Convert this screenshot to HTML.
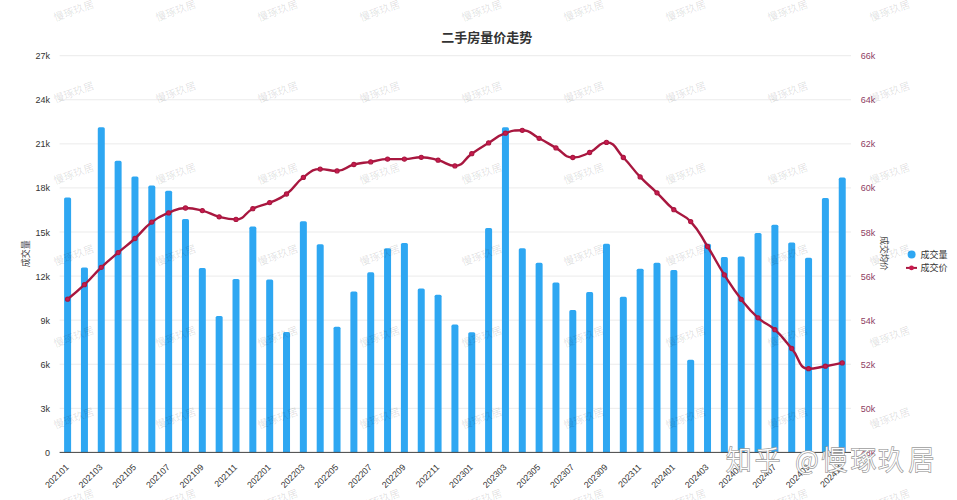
<!DOCTYPE html>
<html><head><meta charset="utf-8"><style>
html,body{margin:0;padding:0;background:#fff;}
body{width:957px;height:500px;overflow:hidden;position:relative;}
svg{position:absolute;left:0;top:0;}
text{font-family:"Liberation Sans","Noto Sans CJK SC",sans-serif;}
.wm{font-size:10.5px;fill:#000;fill-opacity:0.13;text-anchor:middle;}
.g{stroke:#ebebeb;stroke-width:1;}
.yl{font-size:9px;fill:#333;text-anchor:end;}
.yr{font-size:9px;fill:#8e4063;text-anchor:start;}
.xl{font-size:8.8px;fill:#333;text-anchor:end;}
.title{font-size:13px;font-weight:bold;fill:#333;text-anchor:middle;}
.an{font-size:9px;fill:#444;text-anchor:middle;}
.lg{font-size:9px;fill:#333;}
.zh{font-family:"Noto Sans CJK SC",sans-serif;font-size:27px;font-weight:300;fill:#fff;stroke:#9c9c9c;stroke-width:1.5px;paint-order:stroke;}
</style></head><body>
<svg width="957" height="500" viewBox="0 0 957 500">
<g><line x1="59.6" x2="851" y1="55.70" y2="55.70" class="g"/><line x1="59.6" x2="851" y1="99.78" y2="99.78" class="g"/><line x1="59.6" x2="851" y1="143.86" y2="143.86" class="g"/><line x1="59.6" x2="851" y1="187.93" y2="187.93" class="g"/><line x1="59.6" x2="851" y1="232.01" y2="232.01" class="g"/><line x1="59.6" x2="851" y1="276.09" y2="276.09" class="g"/><line x1="59.6" x2="851" y1="320.17" y2="320.17" class="g"/><line x1="59.6" x2="851" y1="364.24" y2="364.24" class="g"/><line x1="59.6" x2="851" y1="408.32" y2="408.32" class="g"/></g>
<g fill="#2ea7f2"><path d="M64.10,452.40 V199.10 Q64.10,197.50 65.70,197.50 H69.50 Q71.10,197.50 71.10,199.10 V452.40 Z"/><path d="M80.94,452.40 V269.00 Q80.94,267.40 82.54,267.40 H86.34 Q87.94,267.40 87.94,269.00 V452.40 Z"/><path d="M97.78,452.40 V128.80 Q97.78,127.20 99.38,127.20 H103.18 Q104.78,127.20 104.78,128.80 V452.40 Z"/><path d="M114.62,452.40 V162.40 Q114.62,160.80 116.22,160.80 H120.02 Q121.62,160.80 121.62,162.40 V452.40 Z"/><path d="M131.46,452.40 V178.00 Q131.46,176.40 133.06,176.40 H136.86 Q138.46,176.40 138.46,178.00 V452.40 Z"/><path d="M148.30,452.40 V187.20 Q148.30,185.60 149.90,185.60 H153.70 Q155.30,185.60 155.30,187.20 V452.40 Z"/><path d="M165.14,452.40 V192.30 Q165.14,190.70 166.74,190.70 H170.54 Q172.14,190.70 172.14,192.30 V452.40 Z"/><path d="M181.98,452.40 V220.70 Q181.98,219.10 183.58,219.10 H187.38 Q188.98,219.10 188.98,220.70 V452.40 Z"/><path d="M198.82,452.40 V269.70 Q198.82,268.10 200.42,268.10 H204.22 Q205.82,268.10 205.82,269.70 V452.40 Z"/><path d="M215.66,452.40 V317.60 Q215.66,316.00 217.26,316.00 H221.06 Q222.66,316.00 222.66,317.60 V452.40 Z"/><path d="M232.50,452.40 V280.60 Q232.50,279.00 234.10,279.00 H237.90 Q239.50,279.00 239.50,280.60 V452.40 Z"/><path d="M249.34,452.40 V228.20 Q249.34,226.60 250.94,226.60 H254.74 Q256.34,226.60 256.34,228.20 V452.40 Z"/><path d="M266.18,452.40 V281.10 Q266.18,279.50 267.78,279.50 H271.58 Q273.18,279.50 273.18,281.10 V452.40 Z"/><path d="M283.02,452.40 V333.70 Q283.02,332.10 284.62,332.10 H288.42 Q290.02,332.10 290.02,333.70 V452.40 Z"/><path d="M299.86,452.40 V222.80 Q299.86,221.20 301.46,221.20 H305.26 Q306.86,221.20 306.86,222.80 V452.40 Z"/><path d="M316.70,452.40 V245.80 Q316.70,244.20 318.30,244.20 H322.10 Q323.70,244.20 323.70,245.80 V452.40 Z"/><path d="M333.54,452.40 V328.30 Q333.54,326.70 335.14,326.70 H338.94 Q340.54,326.70 340.54,328.30 V452.40 Z"/><path d="M350.38,452.40 V293.00 Q350.38,291.40 351.98,291.40 H355.78 Q357.38,291.40 357.38,293.00 V452.40 Z"/><path d="M367.22,452.40 V273.90 Q367.22,272.30 368.82,272.30 H372.62 Q374.22,272.30 374.22,273.90 V452.40 Z"/><path d="M384.06,452.40 V249.80 Q384.06,248.20 385.66,248.20 H389.46 Q391.06,248.20 391.06,249.80 V452.40 Z"/><path d="M400.90,452.40 V244.60 Q400.90,243.00 402.50,243.00 H406.30 Q407.90,243.00 407.90,244.60 V452.40 Z"/><path d="M417.74,452.40 V290.00 Q417.74,288.40 419.34,288.40 H423.14 Q424.74,288.40 424.74,290.00 V452.40 Z"/><path d="M434.58,452.40 V296.30 Q434.58,294.70 436.18,294.70 H439.98 Q441.58,294.70 441.58,296.30 V452.40 Z"/><path d="M451.42,452.40 V326.20 Q451.42,324.60 453.02,324.60 H456.82 Q458.42,324.60 458.42,326.20 V452.40 Z"/><path d="M468.26,452.40 V333.80 Q468.26,332.20 469.86,332.20 H473.66 Q475.26,332.20 475.26,333.80 V452.40 Z"/><path d="M485.10,452.40 V229.70 Q485.10,228.10 486.70,228.10 H490.50 Q492.10,228.10 492.10,229.70 V452.40 Z"/><path d="M501.94,452.40 V128.90 Q501.94,127.30 503.54,127.30 H507.34 Q508.94,127.30 508.94,128.90 V452.40 Z"/><path d="M518.78,452.40 V249.80 Q518.78,248.20 520.38,248.20 H524.18 Q525.78,248.20 525.78,249.80 V452.40 Z"/><path d="M535.62,452.40 V264.40 Q535.62,262.80 537.22,262.80 H541.02 Q542.62,262.80 542.62,264.40 V452.40 Z"/><path d="M552.46,452.40 V284.00 Q552.46,282.40 554.06,282.40 H557.86 Q559.46,282.40 559.46,284.00 V452.40 Z"/><path d="M569.30,452.40 V311.70 Q569.30,310.10 570.90,310.10 H574.70 Q576.30,310.10 576.30,311.70 V452.40 Z"/><path d="M586.14,452.40 V293.70 Q586.14,292.10 587.74,292.10 H591.54 Q593.14,292.10 593.14,293.70 V452.40 Z"/><path d="M602.98,452.40 V245.40 Q602.98,243.80 604.58,243.80 H608.38 Q609.98,243.80 609.98,245.40 V452.40 Z"/><path d="M619.82,452.40 V298.40 Q619.82,296.80 621.42,296.80 H625.22 Q626.82,296.80 626.82,298.40 V452.40 Z"/><path d="M636.66,452.40 V270.30 Q636.66,268.70 638.26,268.70 H642.06 Q643.66,268.70 643.66,270.30 V452.40 Z"/><path d="M653.50,452.40 V264.40 Q653.50,262.80 655.10,262.80 H658.90 Q660.50,262.80 660.50,264.40 V452.40 Z"/><path d="M670.34,452.40 V271.70 Q670.34,270.10 671.94,270.10 H675.74 Q677.34,270.10 677.34,271.70 V452.40 Z"/><path d="M687.18,452.40 V361.40 Q687.18,359.80 688.78,359.80 H692.58 Q694.18,359.80 694.18,361.40 V452.40 Z"/><path d="M704.02,452.40 V245.40 Q704.02,243.80 705.62,243.80 H709.42 Q711.02,243.80 711.02,245.40 V452.40 Z"/><path d="M720.86,452.40 V258.70 Q720.86,257.10 722.46,257.10 H726.26 Q727.86,257.10 727.86,258.70 V452.40 Z"/><path d="M737.70,452.40 V258.00 Q737.70,256.40 739.30,256.40 H743.10 Q744.70,256.40 744.70,258.00 V452.40 Z"/><path d="M754.54,452.40 V234.60 Q754.54,233.00 756.14,233.00 H759.94 Q761.54,233.00 761.54,234.60 V452.40 Z"/><path d="M771.38,452.40 V226.30 Q771.38,224.70 772.98,224.70 H776.78 Q778.38,224.70 778.38,226.30 V452.40 Z"/><path d="M788.22,452.40 V244.00 Q788.22,242.40 789.82,242.40 H793.62 Q795.22,242.40 795.22,244.00 V452.40 Z"/><path d="M805.06,452.40 V259.40 Q805.06,257.80 806.66,257.80 H810.46 Q812.06,257.80 812.06,259.40 V452.40 Z"/><path d="M821.90,452.40 V199.70 Q821.90,198.10 823.50,198.10 H827.30 Q828.90,198.10 828.90,199.70 V452.40 Z"/><path d="M838.74,452.40 V179.20 Q838.74,177.60 840.34,177.60 H844.14 Q845.74,177.60 845.74,179.20 V452.40 Z"/></g>
<line x1="59.6" x2="851" y1="452.40" y2="452.40" stroke="#444" stroke-width="1"/>
<path d="M67.60,299.20 C67.60,299.20 76.38,292.33 84.44,284.70 C93.22,276.38 92.52,275.65 101.28,267.30 C109.36,259.60 109.63,259.86 118.12,252.60 C126.47,245.46 126.83,245.87 134.96,238.50 C143.67,230.62 142.53,229.15 151.80,222.10 C159.37,216.35 159.84,216.58 168.64,212.90 C176.68,209.53 176.94,208.00 185.48,208.00 C193.78,208.00 194.12,208.46 202.32,210.60 C210.96,212.86 210.52,214.54 219.16,216.80 C227.36,218.94 228.24,219.40 236.00,219.40 C245.08,219.40 243.97,213.13 252.84,208.70 C260.81,204.73 261.49,206.18 269.68,202.60 C278.33,198.83 279.04,199.60 286.52,194.00 C295.88,187.00 293.97,184.34 303.36,177.40 C310.81,171.89 311.35,169.10 320.20,169.10 C328.19,169.10 328.88,170.90 337.04,170.90 C345.72,170.90 345.23,166.81 353.88,164.50 C362.07,162.31 362.31,163.25 370.72,161.90 C379.15,160.55 379.08,159.10 387.56,159.10 C395.92,159.10 396.00,159.10 404.40,159.10 C412.84,159.10 412.86,157.30 421.24,157.30 C429.70,157.30 429.83,158.09 438.08,160.20 C446.67,162.39 447.16,165.90 454.92,165.90 C464.00,165.90 463.18,159.56 471.76,153.70 C480.02,148.06 480.06,148.10 488.60,142.90 C496.90,137.85 496.48,136.50 505.44,133.20 C513.32,130.30 514.23,130.30 522.28,130.30 C531.07,130.30 530.86,133.99 539.12,138.30 C547.70,142.79 547.54,143.10 555.96,147.90 C564.38,152.70 563.97,157.50 572.80,157.50 C580.81,157.50 581.69,156.06 589.64,152.50 C598.53,148.51 598.65,142.40 606.48,142.40 C615.49,142.40 615.44,149.42 623.32,157.50 C632.28,166.67 631.30,167.62 640.16,176.90 C648.14,185.27 648.70,184.72 657.00,192.80 C665.54,201.12 664.81,201.98 673.84,209.70 C681.65,216.38 683.83,214.11 690.68,221.60 C700.67,232.51 699.49,233.80 707.52,246.50 C716.33,260.45 715.49,260.99 724.36,274.90 C732.33,287.39 732.07,287.67 741.20,299.30 C748.91,309.12 748.81,309.47 758.04,317.80 C765.65,324.67 767.31,322.80 774.88,329.70 C784.15,338.15 783.47,338.95 791.72,348.50 C800.31,358.45 798.34,368.70 808.56,368.70 C815.18,368.70 817.01,367.64 825.40,366.20 C833.85,364.74 842.24,362.90 842.24,362.90" fill="none" stroke="#a8173f" stroke-width="2.4"/>
<g fill="#c81a4e" stroke="#a8173f" stroke-width="1.1"><circle cx="67.60" cy="299.20" r="2.1"/><circle cx="84.44" cy="284.70" r="2.1"/><circle cx="101.28" cy="267.30" r="2.1"/><circle cx="118.12" cy="252.60" r="2.1"/><circle cx="134.96" cy="238.50" r="2.1"/><circle cx="151.80" cy="222.10" r="2.1"/><circle cx="168.64" cy="212.90" r="2.1"/><circle cx="185.48" cy="208.00" r="2.1"/><circle cx="202.32" cy="210.60" r="2.1"/><circle cx="219.16" cy="216.80" r="2.1"/><circle cx="236.00" cy="219.40" r="2.1"/><circle cx="252.84" cy="208.70" r="2.1"/><circle cx="269.68" cy="202.60" r="2.1"/><circle cx="286.52" cy="194.00" r="2.1"/><circle cx="303.36" cy="177.40" r="2.1"/><circle cx="320.20" cy="169.10" r="2.1"/><circle cx="337.04" cy="170.90" r="2.1"/><circle cx="353.88" cy="164.50" r="2.1"/><circle cx="370.72" cy="161.90" r="2.1"/><circle cx="387.56" cy="159.10" r="2.1"/><circle cx="404.40" cy="159.10" r="2.1"/><circle cx="421.24" cy="157.30" r="2.1"/><circle cx="438.08" cy="160.20" r="2.1"/><circle cx="454.92" cy="165.90" r="2.1"/><circle cx="471.76" cy="153.70" r="2.1"/><circle cx="488.60" cy="142.90" r="2.1"/><circle cx="505.44" cy="133.20" r="2.1"/><circle cx="522.28" cy="130.30" r="2.1"/><circle cx="539.12" cy="138.30" r="2.1"/><circle cx="555.96" cy="147.90" r="2.1"/><circle cx="572.80" cy="157.50" r="2.1"/><circle cx="589.64" cy="152.50" r="2.1"/><circle cx="606.48" cy="142.40" r="2.1"/><circle cx="623.32" cy="157.50" r="2.1"/><circle cx="640.16" cy="176.90" r="2.1"/><circle cx="657.00" cy="192.80" r="2.1"/><circle cx="673.84" cy="209.70" r="2.1"/><circle cx="690.68" cy="221.60" r="2.1"/><circle cx="707.52" cy="246.50" r="2.1"/><circle cx="724.36" cy="274.90" r="2.1"/><circle cx="741.20" cy="299.30" r="2.1"/><circle cx="758.04" cy="317.80" r="2.1"/><circle cx="774.88" cy="329.70" r="2.1"/><circle cx="791.72" cy="348.50" r="2.1"/><circle cx="808.56" cy="368.70" r="2.1"/><circle cx="825.40" cy="366.20" r="2.1"/><circle cx="842.24" cy="362.90" r="2.1"/></g>
<g><text x="50" y="456.40" class="yl">0</text><text x="50" y="412.24" class="yl">3k</text><text x="50" y="368.09" class="yl">6k</text><text x="50" y="323.93" class="yl">9k</text><text x="50" y="279.78" class="yl">12k</text><text x="50" y="235.62" class="yl">15k</text><text x="50" y="191.47" class="yl">18k</text><text x="50" y="147.31" class="yl">21k</text><text x="50" y="103.16" class="yl">24k</text><text x="50" y="59.00" class="yl">27k</text></g>
<g><text x="860.8" y="456.40" class="yr">48k</text><text x="860.8" y="412.24" class="yr">50k</text><text x="860.8" y="368.09" class="yr">52k</text><text x="860.8" y="323.93" class="yr">54k</text><text x="860.8" y="279.78" class="yr">56k</text><text x="860.8" y="235.62" class="yr">58k</text><text x="860.8" y="191.47" class="yr">60k</text><text x="860.8" y="147.31" class="yr">62k</text><text x="860.8" y="103.16" class="yr">64k</text><text x="860.8" y="59.00" class="yr">66k</text></g>
<g><text x="67.30" y="468.60" transform="rotate(-45 67.30 465.60)" class="xl">202101</text><text x="100.98" y="468.60" transform="rotate(-45 100.98 465.60)" class="xl">202103</text><text x="134.66" y="468.60" transform="rotate(-45 134.66 465.60)" class="xl">202105</text><text x="168.34" y="468.60" transform="rotate(-45 168.34 465.60)" class="xl">202107</text><text x="202.02" y="468.60" transform="rotate(-45 202.02 465.60)" class="xl">202109</text><text x="235.70" y="468.60" transform="rotate(-45 235.70 465.60)" class="xl">202111</text><text x="269.38" y="468.60" transform="rotate(-45 269.38 465.60)" class="xl">202201</text><text x="303.06" y="468.60" transform="rotate(-45 303.06 465.60)" class="xl">202203</text><text x="336.74" y="468.60" transform="rotate(-45 336.74 465.60)" class="xl">202205</text><text x="370.42" y="468.60" transform="rotate(-45 370.42 465.60)" class="xl">202207</text><text x="404.10" y="468.60" transform="rotate(-45 404.10 465.60)" class="xl">202209</text><text x="437.78" y="468.60" transform="rotate(-45 437.78 465.60)" class="xl">202211</text><text x="471.46" y="468.60" transform="rotate(-45 471.46 465.60)" class="xl">202301</text><text x="505.14" y="468.60" transform="rotate(-45 505.14 465.60)" class="xl">202303</text><text x="538.82" y="468.60" transform="rotate(-45 538.82 465.60)" class="xl">202305</text><text x="572.50" y="468.60" transform="rotate(-45 572.50 465.60)" class="xl">202307</text><text x="606.18" y="468.60" transform="rotate(-45 606.18 465.60)" class="xl">202309</text><text x="639.86" y="468.60" transform="rotate(-45 639.86 465.60)" class="xl">202311</text><text x="673.54" y="468.60" transform="rotate(-45 673.54 465.60)" class="xl">202401</text><text x="707.22" y="468.60" transform="rotate(-45 707.22 465.60)" class="xl">202403</text><text x="740.90" y="468.60" transform="rotate(-45 740.90 465.60)" class="xl">202405</text><text x="774.58" y="468.60" transform="rotate(-45 774.58 465.60)" class="xl">202407</text><text x="808.26" y="468.60" transform="rotate(-45 808.26 465.60)" class="xl">202409</text><text x="841.94" y="468.60" transform="rotate(-45 841.94 465.60)" class="xl">202411</text></g>
<text x="486.7" y="41.8" class="title">二手房量价走势</text>
<text x="0" y="0" class="an" transform="translate(28.5 253.7) rotate(-90)">成交量</text>
<text x="0" y="0" class="an" style="font-size:8.6px" transform="translate(881 253.5) rotate(90)">成交均价</text>
<circle cx="911.6" cy="254.4" r="4" fill="#2ea7f2"/>
<text x="920.4" y="257.8" class="lg">成交量</text>
<line x1="906" x2="917" y1="267.9" y2="267.9" stroke="#a8173f" stroke-width="2"/>
<circle cx="911.5" cy="267.9" r="2.4" fill="#c81a4e"/>
<text x="920.4" y="271" class="lg">成交价</text>
<g><text x="74.0" y="14.5" transform="rotate(-20 74.0 11.3)" class="wm">慢琢玖居</text><text x="176.0" y="14.5" transform="rotate(-20 176.0 11.3)" class="wm">慢琢玖居</text><text x="278.0" y="14.5" transform="rotate(-20 278.0 11.3)" class="wm">慢琢玖居</text><text x="380.0" y="14.5" transform="rotate(-20 380.0 11.3)" class="wm">慢琢玖居</text><text x="482.0" y="14.5" transform="rotate(-20 482.0 11.3)" class="wm">慢琢玖居</text><text x="584.0" y="14.5" transform="rotate(-20 584.0 11.3)" class="wm">慢琢玖居</text><text x="686.0" y="14.5" transform="rotate(-20 686.0 11.3)" class="wm">慢琢玖居</text><text x="788.0" y="14.5" transform="rotate(-20 788.0 11.3)" class="wm">慢琢玖居</text><text x="890.0" y="14.5" transform="rotate(-20 890.0 11.3)" class="wm">慢琢玖居</text><text x="74.0" y="96.0" transform="rotate(-20 74.0 92.8)" class="wm">慢琢玖居</text><text x="176.0" y="96.0" transform="rotate(-20 176.0 92.8)" class="wm">慢琢玖居</text><text x="278.0" y="96.0" transform="rotate(-20 278.0 92.8)" class="wm">慢琢玖居</text><text x="380.0" y="96.0" transform="rotate(-20 380.0 92.8)" class="wm">慢琢玖居</text><text x="482.0" y="96.0" transform="rotate(-20 482.0 92.8)" class="wm">慢琢玖居</text><text x="584.0" y="96.0" transform="rotate(-20 584.0 92.8)" class="wm">慢琢玖居</text><text x="686.0" y="96.0" transform="rotate(-20 686.0 92.8)" class="wm">慢琢玖居</text><text x="788.0" y="96.0" transform="rotate(-20 788.0 92.8)" class="wm">慢琢玖居</text><text x="890.0" y="96.0" transform="rotate(-20 890.0 92.8)" class="wm">慢琢玖居</text><text x="74.0" y="177.5" transform="rotate(-20 74.0 174.3)" class="wm">慢琢玖居</text><text x="176.0" y="177.5" transform="rotate(-20 176.0 174.3)" class="wm">慢琢玖居</text><text x="278.0" y="177.5" transform="rotate(-20 278.0 174.3)" class="wm">慢琢玖居</text><text x="380.0" y="177.5" transform="rotate(-20 380.0 174.3)" class="wm">慢琢玖居</text><text x="482.0" y="177.5" transform="rotate(-20 482.0 174.3)" class="wm">慢琢玖居</text><text x="584.0" y="177.5" transform="rotate(-20 584.0 174.3)" class="wm">慢琢玖居</text><text x="686.0" y="177.5" transform="rotate(-20 686.0 174.3)" class="wm">慢琢玖居</text><text x="788.0" y="177.5" transform="rotate(-20 788.0 174.3)" class="wm">慢琢玖居</text><text x="890.0" y="177.5" transform="rotate(-20 890.0 174.3)" class="wm">慢琢玖居</text><text x="74.0" y="259.0" transform="rotate(-20 74.0 255.8)" class="wm">慢琢玖居</text><text x="176.0" y="259.0" transform="rotate(-20 176.0 255.8)" class="wm">慢琢玖居</text><text x="278.0" y="259.0" transform="rotate(-20 278.0 255.8)" class="wm">慢琢玖居</text><text x="380.0" y="259.0" transform="rotate(-20 380.0 255.8)" class="wm">慢琢玖居</text><text x="482.0" y="259.0" transform="rotate(-20 482.0 255.8)" class="wm">慢琢玖居</text><text x="584.0" y="259.0" transform="rotate(-20 584.0 255.8)" class="wm">慢琢玖居</text><text x="686.0" y="259.0" transform="rotate(-20 686.0 255.8)" class="wm">慢琢玖居</text><text x="788.0" y="259.0" transform="rotate(-20 788.0 255.8)" class="wm">慢琢玖居</text><text x="890.0" y="259.0" transform="rotate(-20 890.0 255.8)" class="wm">慢琢玖居</text><text x="74.0" y="340.5" transform="rotate(-20 74.0 337.3)" class="wm">慢琢玖居</text><text x="176.0" y="340.5" transform="rotate(-20 176.0 337.3)" class="wm">慢琢玖居</text><text x="278.0" y="340.5" transform="rotate(-20 278.0 337.3)" class="wm">慢琢玖居</text><text x="380.0" y="340.5" transform="rotate(-20 380.0 337.3)" class="wm">慢琢玖居</text><text x="482.0" y="340.5" transform="rotate(-20 482.0 337.3)" class="wm">慢琢玖居</text><text x="584.0" y="340.5" transform="rotate(-20 584.0 337.3)" class="wm">慢琢玖居</text><text x="686.0" y="340.5" transform="rotate(-20 686.0 337.3)" class="wm">慢琢玖居</text><text x="788.0" y="340.5" transform="rotate(-20 788.0 337.3)" class="wm">慢琢玖居</text><text x="890.0" y="340.5" transform="rotate(-20 890.0 337.3)" class="wm">慢琢玖居</text><text x="74.0" y="422.0" transform="rotate(-20 74.0 418.8)" class="wm">慢琢玖居</text><text x="176.0" y="422.0" transform="rotate(-20 176.0 418.8)" class="wm">慢琢玖居</text><text x="278.0" y="422.0" transform="rotate(-20 278.0 418.8)" class="wm">慢琢玖居</text><text x="380.0" y="422.0" transform="rotate(-20 380.0 418.8)" class="wm">慢琢玖居</text><text x="482.0" y="422.0" transform="rotate(-20 482.0 418.8)" class="wm">慢琢玖居</text><text x="584.0" y="422.0" transform="rotate(-20 584.0 418.8)" class="wm">慢琢玖居</text><text x="686.0" y="422.0" transform="rotate(-20 686.0 418.8)" class="wm">慢琢玖居</text><text x="788.0" y="422.0" transform="rotate(-20 788.0 418.8)" class="wm">慢琢玖居</text><text x="890.0" y="422.0" transform="rotate(-20 890.0 418.8)" class="wm">慢琢玖居</text><text x="74.0" y="503.5" transform="rotate(-20 74.0 500.3)" class="wm">慢琢玖居</text><text x="176.0" y="503.5" transform="rotate(-20 176.0 500.3)" class="wm">慢琢玖居</text><text x="278.0" y="503.5" transform="rotate(-20 278.0 500.3)" class="wm">慢琢玖居</text><text x="380.0" y="503.5" transform="rotate(-20 380.0 500.3)" class="wm">慢琢玖居</text><text x="482.0" y="503.5" transform="rotate(-20 482.0 500.3)" class="wm">慢琢玖居</text><text x="584.0" y="503.5" transform="rotate(-20 584.0 500.3)" class="wm">慢琢玖居</text><text x="686.0" y="503.5" transform="rotate(-20 686.0 500.3)" class="wm">慢琢玖居</text><text x="788.0" y="503.5" transform="rotate(-20 788.0 500.3)" class="wm">慢琢玖居</text><text x="890.0" y="503.5" transform="rotate(-20 890.0 500.3)" class="wm">慢琢玖居</text></g>
<text x="764.2 794.4 826.4 837.0 864.8 895.3 924.1 956.2" y="470" class="zh" transform="scale(0.95 1)">知乎 @慢琢玖居</text>
</svg>
</body></html>
